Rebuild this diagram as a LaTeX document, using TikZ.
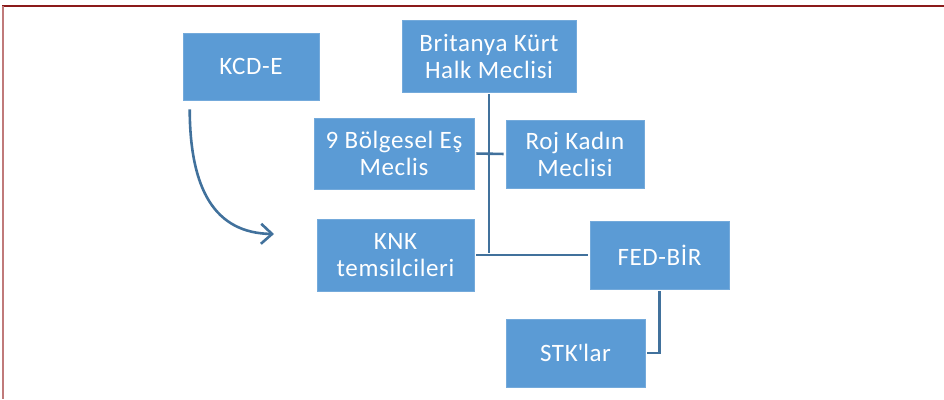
\documentclass[tikz,border=0pt]{standalone}
\usepackage{fontspec}
\setmainfont{Carlito}
\newfontfamily\boxfont[LetterSpace=2.5]{Carlito}
\usetikzlibrary{arrows.meta}
\definecolor{boxblue}{HTML}{5B9BD5}
\definecolor{lineblue}{HTML}{41719C}
\definecolor{frametop}{HTML}{8B1A1A}
\definecolor{frameleft}{HTML}{C07A7A}
\tikzset{
  orgbox/.style={rectangle, fill=boxblue, draw=boxblue!85!white, line width=0.6pt, text=white, align=center,
    font=\boxfont\fontsize{25}{27}\selectfont, inner sep=0pt, execute at end node={\vspace{5pt}}},
  conn/.style={draw=lineblue, line width=2.6pt, shorten <=2pt, shorten >=2pt},
}
\begin{document}
\begin{tikzpicture}[x=1pt,y=-1pt]
\useasboundingbox (0,0) rectangle (944,399);
% frame
\draw[frametop, line width=1.6pt] (2,6) -- (944,6);
\draw[frameleft, line width=2pt] (2.5,6) -- (2.5,399);
% boxes
\node[orgbox, minimum width=136pt, minimum height=67pt] (kcd) at (251,66.5) {KCD-E};
\node[orgbox, minimum width=174pt, minimum height=72pt] (brit) at (489,56) {Britanya Kürt\\Halk Meclisi};
\node[orgbox, minimum width=160pt, minimum height=71pt] (bol) at (394,153.5) {9 Bölgesel Eş\\Meclis};
\node[orgbox, minimum width=138pt, minimum height=68pt] (roj) at (575,154) {Roj Kadın\\Meclisi};
\node[orgbox, minimum width=157pt, minimum height=72pt] (knk) at (395.5,255) {KNK\\temsilcileri};
\node[orgbox, minimum width=139pt, minimum height=68pt] (fed) at (659.5,255) {FED-BİR};
\node[orgbox, minimum width=139pt, minimum height=68pt] (stk) at (575.5,353) {STK\textquotesingle lar};
\coordinate (kcdstart) at ([shift={(7,9)}]kcd.south west);
\coordinate (kcdend) at (274,234);
% connectors
\draw[conn] (brit.south) -- (brit.south |- knk.east);
\draw[conn] (knk.east) -- (fed.west);
\draw[conn] (bol.east) -- (roj.west);
\draw[conn] (fed.south) |- (stk.east);
\draw[draw=lineblue, line width=2.6pt, -{Straight Barb[length=11pt,width=20pt]}]
  (kcdstart) .. controls (190,190) and (215,233) .. (kcdend);
\end{tikzpicture}
\end{document}
